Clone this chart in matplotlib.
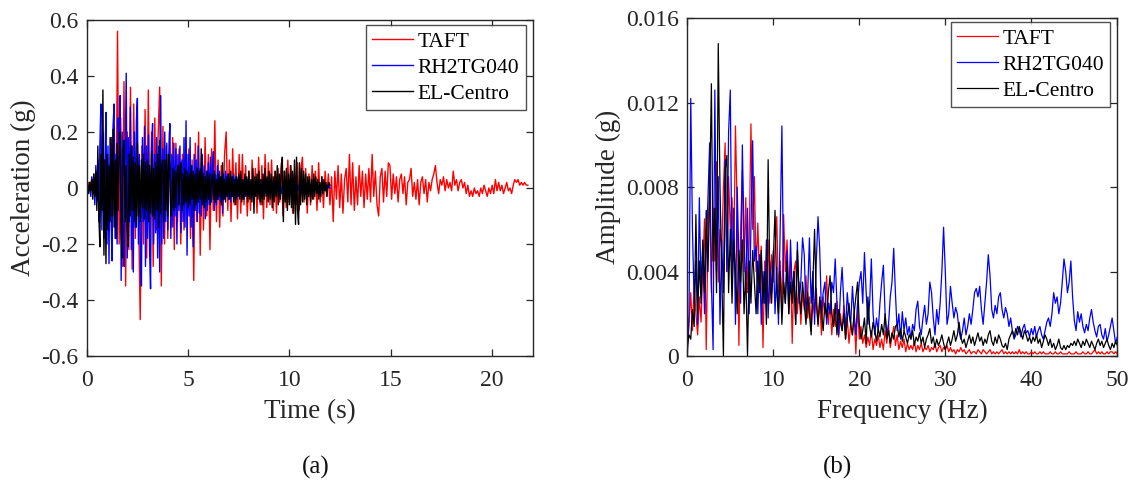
import numpy as np
import matplotlib
matplotlib.use("Agg")
import matplotlib.pyplot as plt
from matplotlib.ticker import FuncFormatter

# ---------------- data ----------------
series_names = ["TAFT", "RH2TG040", "EL-Centro"]
series_colors = ["#ff0000", "#0000ff", "#000000"]

# (a) acceleration time histories, units of 0.01 g
taft_dt = 0.08
taft_acc = [
    0, 2, -1, 3, -2, 1, -3,
    5, -6, 8, -4, 10, -9,
    12, -15, 18, -10, 22, -18,
    56, -20, 25, -28, 38, -35,
    20, -22, 36, -29, 30, -18, 24, -10,
    -47, 15, -20, 28, -25, 35, -22, 20,
    -28, 25, -15, 18, 36, -35, 22, -20,
    15, -18, 20, -14, 18, -22, 16, -12,
    14, -20, 12, -15, 18, -10, 14, -18,
    10, -33, 16, -12, 20, -24, 12, -15,
    18, -10, 12, -22, 14, -8, 24, -12,
    10, -14, 8, -10, 12, 20, -8, 10,
    -12, 14, -6, 9, -11, 12, -9, 12,
    -6, 8, -10, 6, -8, 10, -5, 7,
    -9, 11, -6, 8, -11, 12, -7, 9,
    -6, 10, -8, 6, -9, 7, -5, 9,
    -10, 6, -7, 10, -5, 8, -9, 5,
    -6, 9, -8, 6, 11, -5, 7, -9,
    5, -6, 8, -4, 6, -8, 9, -5,
    4, -7, 6, -3, 5, -6, 4, -12,
    6, -4, 8, -7, 5, -9, 3, 7,
    -5, 12, -6, 9, -8, 4, -6, 8,
    -3, 6, -7, 5, -4, 7, -5, 12,
    -3, 6, -6, -10, 4, 7, -5, 6,
    -3, 9, 8, -4, 5, -2, 4, -5,
    3, 5, -2, 4, -6, 2, 3, 7,
    -3, 2, -4, 3, -6, 2, 4, -2,
    3, -5, 2, -1, 3, 5, 8, 2,
    -2, 3, 1, 4, -1, 3, 0, 2,
    -1, 6, 1, 3, -1, 2, 3, 0,
    2, -2, 1, -3, -1, -3, 0, -2,
    -1, -3, 0, -2, 1, -1, -3, 0,
    -2, 1, -2, 3, -1, 2, -1, 1,
    -2, 0, 2, -1, 0, -2, 1, 3,
    2, 3, 1, 2, 1, 2, 1, 1,
]

rh_dt = 0.05
rh_acc = [
    0, 1, -1, 2, -3, 4, -2, 5, -6, 8, -5, 10, -12, 15, 30, -15, 20, -18, 10, 27,
    -20, 15, -27, 18, -10, -26, 22, 30, -18, 12, -20, 25, 16, 33, -33, 20, -15, -28, 10, 41,
    -25, 18, -12, 29, -22, 15, -30, 20, -14, 24, 32, -20, 12, -25, -35, 18, -12, 22, -28, 15,
    -18, 19, -22, -36, 14, 23, -20, 12, -16, 18, -25, 15, -30, 33, -20, 14, -18, 20, -12, 16,
    -15, 10, 23, -18, 12, -14, 16, -10, 14, -20, 12, -8, 15, -16, 10, -12, 18, -14, 24, -24,
    12, -10, 18, -14, 8, -21, 12, -8, 10, -12, 15, -9, 7, -10, 12, -6, 8, -11, 6, -8,
    9, -6, 11, -5, 7, 13, -8, 5, -6, 8, -4, 6, -5, 4, -9, 5, -4, 6, -3, 5,
    -4, 3, -5, 4, -3, 5, -2, 4, -4, 3, -3, 4, -2, 3, -4, 2, -3, 4, -2, 3,
    -3, 2, -2, 3, -2, 1, -3, 2, -1, 2, -2, 3, -1, 2, -2, 1, -2, 2, -1, 2,
    -2, 1, -1, 2, -1, 1, -2, 1, 0, 2, -1, 1, -2, 1, -1, 2, -1, 1, -1, 2,
    -1, 1, -2, 1, 0, 1, -1, 2, -1, 1, -1, 0, 1, -1, 2, -1, 1, -1, 0, 1,
    -1, 1, 0, -1, 2, -1, 1, 0, -1, 1, -1, 0, 1, -1, 1, 0, -1, 1, 0, 1, 0,
]

el_dt = 0.05
el_acc = [
    0, 1, -2, 2, -1, 3, -4, 5, -3, 6, -8, 15, -10, -21, 12, -8, 35, -24, 10, -27,
    12, -15, 8, -12, 18, -10, 21, -14, 10, -18, 16, -8, 12, 20, -16, -25, 14, 17, -12, 8,
    -14, -21, 12, -10, 15, -8, 11, -12, 9, -14, 16, -10, 8, -12, 10, -7, 12, -11, 9, -8,
    10, -12, 8, -9, 13, -10, 7, -11, 9, -8, 12, -14, 17, -9, 8, 10, -12, 10, -8, 12,
    -10, 12, 8, -10, -6, 7, -8, 6, -7, 5, 8, -6, 7, 9, -8, 5, -6, 7, -5, 6,
    -7, 5, -6, 8, -4, 6, -8, 5, -6, 7, -5, 6, -4, 14, -6, 5, -7, 4, -5, 6,
    -4, 5, -6, 3, 5, -4, 6, -5, 3, -4, 5, -3, 4, -6, 9, -4, 3, -5, 4, -3,
    5, -4, 6, -3, 4, -5, 3, -6, 4, -3, 5, -4, 6, -5, 3, -4, 5, -3, 4, -5,
    6, -4, 3, -5, 7, -9, 4, -3, 5, -4, 6, -5, 3, -6, 5, -4, 7, -3, 4, -5,
    6, -4, 5, -7, 4, -5, 6, -3, 8, -6, 5, -4, 7, 11, -12, 6, -5, 7, -8, 5,
    -6, 8, -7, 6, -9, 10, -13, 11, -8, -13, 9, -6, 7, -5, 6, -4, 5, -6, 4, -3,
    4, -5, 3, -4, 5, -3, 4, -2, 3, -4, 2, -3, 4, -2, 3, -1, 2, -3, 1, 2, 1,
]

# (b) Fourier amplitude spectra, units of 1e-4 g, frequency step 0.2 Hz
spec_df = 0.2
taft_amp = [
    2, 15, 30, 12, 35, 20, 10, 28, 16, 40,
    65, 3, 55, 85, 30, 70, 45, 92, 35, 60,
    50, 80, 101, 40, 85, 60, 75, 45, 109, 70,
    5, 60, 88, 40, 75, 30, 55, 110, 60, 85,
    40, 63, 35, 52, 4, 45, 30, 55, 25, 48,
    35, 50, 66, 30, 45, 20, 67, 40, 55, 30,
    45, 6, 40, 45, 20, 35, 15, 30, 22, 38,
    18, 28, 12, 25, 20, 32, 14, 26, 10, 28,
    20, 38, 15, 25, 10, 22, 14, 26, 9, 20,
    12, 24, 8, 18, 6, 15, 10, 20, 1, 24,
    8, 14, 6, 10, 4, 9, 5, 12, 3, 8,
    5, 10, 4, 8, 3, 12, 6, 15, 4, 9,
    14, 5, 10, 3, 7, 4, 8, 2, 6, 3,
    5, 3, 7, 2, 5, 3, 6, 2, 4, 3,
    5, 2, 4, 3, 6, 2, 4, 5, 2, 4,
    3, 5, 2, 4, 2, 3, 1, 3, 2, 4,
    2, 3, 1, 2, 3, 1, 2, 2, 1, 3,
    2, 1, 3, 2, 1, 2, 3, 1, 2, 1,
    2, 1, 2, 3, 1, 2, 1, 2, 1, 2,
    1, 2, 1, 3, 1, 2, 1, 2, 1, 1,
    2, 1, 2, 1, 1, 2, 1, 2, 1, 1,
    1, 2, 1, 1, 2, 1, 1, 2, 1, 1,
    1, 1, 2, 1, 1, 1, 2, 1, 1, 1,
    2, 1, 1, 2, 1, 1, 2, 3, 1, 2,
    1, 2, 1, 1, 2, 1, 2, 2, 1, 2,
    1,
]

rh_amp = [
    0, 20, 122, 60, 25, 45, 15, 75, 30, 52,
    20, 48, 74, 101, 35, 3, 126, 40, 85, 15,
    55, 30, 93, 40, 106, 126, 35, 70, 15, 80,
    45, 25, 100, 55, 30, 70, 20, 60, 102, 45,
    52, 20, 48, 15, 40, 25, 55, 18, 45, 30,
    50, 20, 42, 15, 60, 109, 35, 25, 50, 20,
    55, 30, 40, 15, 54, 25, 35, 56, 48, 20,
    30, 56, 25, 40, 15, 45, 66, 50, 20, 30,
    35, 15, 25, 20, 35, 30, 46, 25, 10, 30,
    42, 25, 12, 30, 20, 15, 33, 20, 10, 25,
    35, 40, 25, 49, 30, 15, 25, 46, 20, 10,
    18, 12, 25, 35, 43, 20, 10, 15, 28, 35,
    51, 30, 12, 20, 8, 21, 12, 18, 10, 14,
    8, 15, 12, 22, 26, 14, 10, 18, 24, 15,
    20, 35, 30, 18, 10, 22, 15, 25, 40, 61,
    40, 15, 20, 33, 25, 18, 23, 20, 12, 8,
    12, 18, 10, 14, 20, 15, 22, 30, 32, 28,
    33, 22, 15, 25, 35, 48, 38, 22, 18, 24,
    20, 28, 30, 22, 18, 23, 20, 14, 18, 12,
    8, 10, 14, 12, 9, 13, 15, 11, 12, 9,
    13, 10, 14, 9, 12, 14, 10, 8, 12, 16,
    18, 14, 20, 30, 25, 28, 20, 25, 35, 46,
    40, 30, 35, 45, 28, 17, 12, 21, 16, 20,
    14, 11, 15, 12, 18, 22, 16, 12, 9, 14,
    15, 10, 8, 13, 7, 10, 14, 18, 12, 6,
    9,
]

el_amp = [
    5, 10, 8, 22, 14, 67, 20, 45, 25, 55,
    30, 69, 40, 75, 129, 45, 70, 30, 148, 80,
    40, 0, 88, 95, 30, 60, 25, 55, 40, 20,
    50, 35, 55, 20, 40, 0, 45, 25, 50, 35,
    20, 45, 30, 50, 25, 40, 15, 93, 35, 25,
    45, 69, 30, 20, 40, 15, 35, 25, 45, 20,
    35, 25, 40, 15, 50, 30, 20, 35, 25, 15,
    30, 20, 10, 35, 60, 25, 15, 28, 20, 12,
    25, 18, 30, 38, 20, 14, 25, 10, 22, 16,
    12, 20, 8, 18, 25, 15, 10, 20, 28, 35,
    15, 8, 12, 18, 6, 28, 14, 9, 16, 12,
    7, 13, 9, 15, 10, 20, 8, 12, 6, 11,
    8, 14, 15, 9, 13, 7, 12, 9, 6, 10,
    8, 12, 5, 9, 7, 11, 6, 9, 4, 8,
    10, 13, 6, 9, 4, 8, 5, 7, 10, 6,
    3, 6, 9, 5, 8, 12, 7, 10, 16, 9,
    6, 8, 4, 7, 10, 6, 9, 5, 8, 11,
    7, 9, 5, 8, 6, 10, 12, 7, 5, 9,
    6, 10, 8, 5, 4, 6, 3, 8, 10, 12,
    9, 13, 10, 14, 11, 8, 12, 10, 7, 9,
    6, 9, 7, 10, 6, 8, 4, 7, 10, 8,
    5, 8, 4, 6, 3, 5, 8, 4, 3, 5,
    3, 5, 4, 6, 5, 7, 5, 8, 6, 4,
    7, 5, 8, 6, 4, 7, 5, 3, 6, 8,
    5, 7, 4, 6, 8, 5, 3, 6, 4, 7,
    5,
]

acc_ticks_x = [0, 5, 10, 15, 20]
acc_ticks_y = [-0.6, -0.4, -0.2, 0, 0.2, 0.4, 0.6]
amp_ticks_x = [0, 10, 20, 30, 40, 50]
amp_ticks_y = [0, 0.004, 0.008, 0.012, 0.016]

# ---------------- styling ----------------
plt.rcParams['font.family'] = ['Liberation Serif', 'DejaVu Serif']
plt.rcParams['axes.unicode_minus'] = False

W, H = 1137, 483
fig = plt.figure(figsize=(W / 100, H / 100), dpi=100)

spine_c = '#262626'


def px_axes(x0, y0, x1, y1):
    return fig.add_axes([x0 / W, 1 - y1 / H, (x1 - x0) / W, (y1 - y0) / H])


def style(ax):
    for s in ax.spines.values():
        s.set_color(spine_c)
        s.set_linewidth(1.0)
    ax.tick_params(direction='in', top=True, right=True, length=5,
                   width=0.9, color=spine_c, labelcolor=spine_c,
                   labelsize=17)
    ax.tick_params(axis='x', pad=10)
    ax.tick_params(axis='y', pad=6)


fmt = FuncFormatter(lambda v, p: ('%g' % round(v, 6)))


def add_legend(ax, right_px, top_px):
    leg = ax.legend(loc='upper right', bbox_to_anchor=(right_px / W, 1 - top_px / H),
                    bbox_transform=fig.transFigure, borderaxespad=0,
                    fontsize=15.5, frameon=True, fancybox=False,
                    handlelength=1.9, handletextpad=0.2, labelspacing=0.28,
                    borderpad=0.3)
    leg.get_frame().set_edgecolor(spine_c)
    leg.get_frame().set_linewidth(1.0)
    return leg


# ---- (a) ----
ax1 = px_axes(86.7, 20, 532.7, 356)
acc_data = [(taft_acc, taft_dt), (rh_acc, rh_dt), (el_acc, el_dt)]
for (vals, dt), name, c in zip(acc_data, series_names, series_colors):
    v = np.array(vals, dtype=float) / 100.0
    t = np.arange(len(v)) * dt
    ax1.plot(t, v, color=c, lw=1.0, label=name)
ax1.set_xlim(0, 22)
ax1.set_ylim(-0.6, 0.6)
ax1.set_xticks(acc_ticks_x)
ax1.set_yticks(acc_ticks_y)
ax1.yaxis.set_major_formatter(fmt)
style(ax1)
ax1.set_xlabel('Time (s)', fontsize=19.5, color=spine_c, labelpad=6)
ax1.set_ylabel('Acceleration (g)', fontsize=19.5, color=spine_c, labelpad=4)
add_legend(ax1, 525.7, 25)

# ---- (b) ----
ax2 = px_axes(687.3, 18.3, 1117.3, 356)
amp_data = [taft_amp, rh_amp, el_amp]
for vals, name, c in zip(amp_data, series_names, series_colors):
    v = np.array(vals, dtype=float) * 1e-4
    f = np.arange(len(v)) * spec_df
    ax2.plot(f, v, color=c, lw=0.9, label=name)
ax2.set_xlim(0, 50)
ax2.set_ylim(0, 0.016)
ax2.set_xticks(amp_ticks_x)
ax2.set_yticks(amp_ticks_y)
ax2.yaxis.set_major_formatter(fmt)
style(ax2)
ax2.set_xlabel('Frequency (Hz)', fontsize=19.5, color=spine_c, labelpad=6)
ax2.set_ylabel('Amplitude (g)', fontsize=19.5, color=spine_c, labelpad=4)
add_legend(ax2, 1110.4, 22)

fig.text(316 / W, 1 - 467 / H, '(a)', fontsize=18, ha='center', va='center', color='#111111')
fig.text(838 / W, 1 - 467 / H, '(b)', fontsize=18, ha='center', va='center', color='#111111')

fig.savefig('out.png', dpi=100)
